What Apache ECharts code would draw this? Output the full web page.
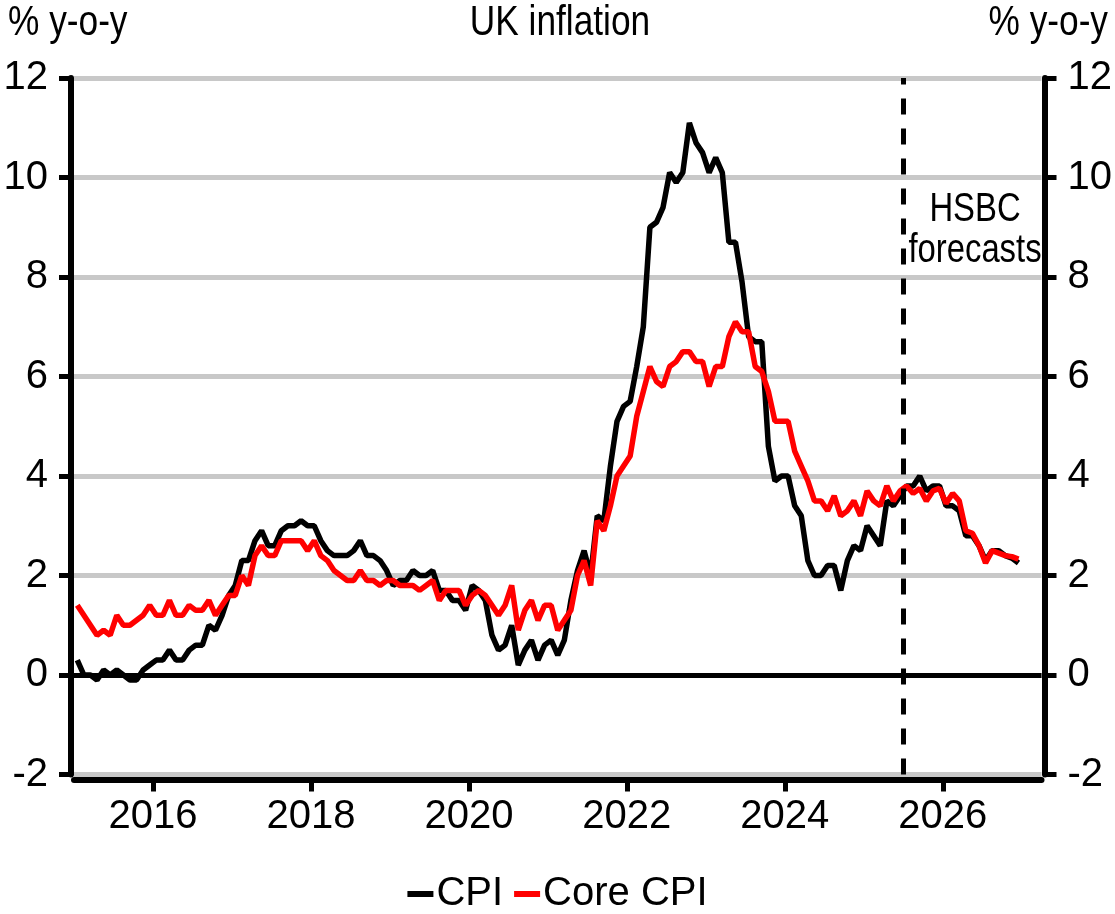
<!DOCTYPE html>
<html>
<head>
<meta charset="utf-8">
<title>UK inflation</title>
<script src="https://cdn.jsdelivr.net/npm/echarts@6/dist/echarts.min.js"></script>
<style>
  html, body { margin: 0; padding: 0; background: #fff; }
  #main { width: 1115px; height: 914px; }
</style>
</head>
<body>
<div id="main"></div>
<script>
// monthly data, Jan 2015 - Dec 2026 (forecasts from Jul 2025)
var startYear = 2015;
var forecastStart = 2025.5;
var xTickYears = [2016, 2018, 2020, 2022, 2024, 2026];

var cpi = [
  0.3, 0.0, 0.0, -0.1, 0.1, 0.0, 0.1, 0.0, -0.1, -0.1, 0.1, 0.2,
  0.3, 0.3, 0.5, 0.3, 0.3, 0.5, 0.6, 0.6, 1.0, 0.9, 1.2, 1.6,
  1.8, 2.3, 2.3, 2.7, 2.9, 2.6, 2.6, 2.9, 3.0, 3.0, 3.1, 3.0,
  3.0, 2.7, 2.5, 2.4, 2.4, 2.4, 2.5, 2.7, 2.4, 2.4, 2.3, 2.1,
  1.8, 1.9, 1.9, 2.1, 2.0, 2.0, 2.1, 1.7, 1.7, 1.5, 1.5, 1.3,
  1.8, 1.7, 1.5, 0.8, 0.5, 0.6, 1.0, 0.2, 0.5, 0.7, 0.3, 0.6,
  0.7, 0.4, 0.7, 1.5, 2.1, 2.5, 2.0, 3.2, 3.1, 4.2, 5.1, 5.4,
  5.5, 6.2, 7.0, 9.0, 9.1, 9.4, 10.1, 9.9, 10.1, 11.1, 10.7, 10.5,
  10.1, 10.4, 10.1, 8.7, 8.7, 7.9, 6.8, 6.7, 6.7, 4.6, 3.9, 4.0,
  4.0, 3.4, 3.2, 2.3, 2.0, 2.0, 2.2, 2.2, 1.7, 2.3, 2.6, 2.5,
  3.0, 2.8, 2.6, 3.5, 3.4, 3.6, 3.8, 3.8, 4.0, 3.7, 3.8, 3.8,
  3.4, 3.4, 3.3, 2.8, 2.8, 2.6, 2.3, 2.5, 2.5, 2.4, 2.35, 2.25
];

var coreCpi = [
  1.4, 1.2, 1.0, 0.8, 0.9, 0.8, 1.2, 1.0, 1.0, 1.1, 1.2, 1.4,
  1.2, 1.2, 1.5, 1.2, 1.2, 1.4, 1.3, 1.3, 1.5, 1.2, 1.4, 1.6,
  1.6, 2.0, 1.8, 2.4, 2.6, 2.4, 2.4, 2.7, 2.7, 2.7, 2.7, 2.5,
  2.7, 2.4, 2.3, 2.1, 2.0, 1.9, 1.9, 2.1, 1.9, 1.9, 1.8, 1.9,
  1.9, 1.8, 1.8, 1.8, 1.7, 1.8, 1.9, 1.5, 1.7, 1.7, 1.7, 1.4,
  1.6, 1.7, 1.6, 1.4, 1.2, 1.4, 1.8, 0.9, 1.3, 1.5, 1.1, 1.4,
  1.4, 0.9, 1.1, 1.3, 2.0, 2.3, 1.8, 3.1, 2.9, 3.4, 4.0, 4.2,
  4.4, 5.2, 5.7, 6.2, 5.9, 5.8, 6.2, 6.3, 6.5, 6.5, 6.3, 6.3,
  5.8, 6.2, 6.2, 6.8, 7.1, 6.9, 6.9, 6.2, 6.1, 5.7, 5.1, 5.1,
  5.1, 4.5, 4.2, 3.9, 3.5, 3.5, 3.3, 3.6, 3.2, 3.3, 3.5, 3.2,
  3.7, 3.5, 3.4, 3.8, 3.5, 3.7, 3.8, 3.65, 3.75, 3.5, 3.7, 3.75,
  3.45, 3.65, 3.5, 2.9, 2.85, 2.6, 2.25, 2.5, 2.45, 2.4, 2.38, 2.33
];

var FONT = '"Liberation Sans", Arial, sans-serif';
var NARROW = 0.82; // squeeze free text so it looks like Arial Narrow

// mid-month positions on a decimal-year axis
function toPairs(values) {
  return values.map(function (v, i) {
    return [startYear + (i + 0.5) / 12, v];
  });
}

function narrowText(text, x, y, align, size) {
  return {
    type: 'text',
    x: x,
    y: y,
    scaleX: NARROW,
    style: {
      text: text,
      align: align,
      verticalAlign: 'top',
      fontFamily: FONT,
      fontSize: size,
      lineHeight: size + 1,
      fill: '#000'
    }
  };
}

var myChart = echarts.init(document.getElementById('main'));

var yAxisCommon = {
  type: 'value',
  min: -2,
  max: 12,
  interval: 2,
  offset: 3,
  axisLine: { show: true, onZero: false, lineStyle: { color: '#000', width: 6 } },
  axisTick: { show: true, inside: false, length: 12, lineStyle: { color: '#000', width: 5 } },
  axisLabel: { color: '#000', fontFamily: FONT, fontSize: 40, margin: 23 }
};

var option = {
  animation: false,
  backgroundColor: '#fff',
  legend: {
    bottom: -5,
    left: 'center',
    icon: 'rect',
    itemWidth: 26,
    itemHeight: 6,
    itemGap: 11,
    textStyle: { fontFamily: FONT, fontSize: 40, color: '#000', padding: [0, 0, 0, -2] },
    data: ['CPI', 'Core CPI']
  },
  grid: { left: 74, right: 70, top: 78, bottom: 139.5, containLabel: false },
  xAxis: {
    type: 'value',
    min: startYear,
    max: 2027.25,
    offset: 5,
    axisLine: { show: true, onZero: false, lineStyle: { color: '#000', width: 6 } },
    axisTick: { show: true, length: 12, customValues: xTickYears, lineStyle: { color: '#000', width: 5 } },
    axisLabel: {
      customValues: xTickYears,
      color: '#000', fontFamily: FONT, fontSize: 40, margin: 17,
      formatter: function (v) { return String(v); }
    },
    splitLine: { show: false }
  },
  yAxis: [
    Object.assign({}, yAxisCommon, {
      position: 'left',
      splitLine: { show: true, lineStyle: { color: '#c8c8c8', width: 5 } }
    }),
    Object.assign({}, yAxisCommon, {
      position: 'right',
      splitLine: { show: false }
    })
  ],
  graphic: [
    narrowText('UK inflation', 560, 1.5, 'center', 43),
    narrowText('% y-o-y', 8, 1.5, 'left', 43),
    narrowText('% y-o-y', 1108, 1.5, 'right', 43),
    narrowText('HSBC\nforecasts', 975, 189, 'center', 40)
  ],
  series: [
    {
      name: 'CPI',
      type: 'line',
      data: toPairs(cpi),
      showSymbol: false,
      symbol: 'none',
      lineStyle: { color: '#000', width: 5.5 },
      itemStyle: { color: '#000' },
      z: 3,
      markLine: {
        silent: true,
        symbol: 'none',
        label: { show: false },
        data: [
          { yAxis: 0, lineStyle: { color: '#000', width: 5, type: 'solid' } },
          { xAxis: forecastStart, lineStyle: { color: '#000', width: 5, type: [16, 14] } }
        ]
      }
    },
    {
      name: 'Core CPI',
      type: 'line',
      data: toPairs(coreCpi),
      showSymbol: false,
      symbol: 'none',
      lineStyle: { color: '#ff0000', width: 5.5 },
      itemStyle: { color: '#ff0000' },
      z: 4
    }
  ]
};

myChart.setOption(option);
</script>
</body>
</html>
